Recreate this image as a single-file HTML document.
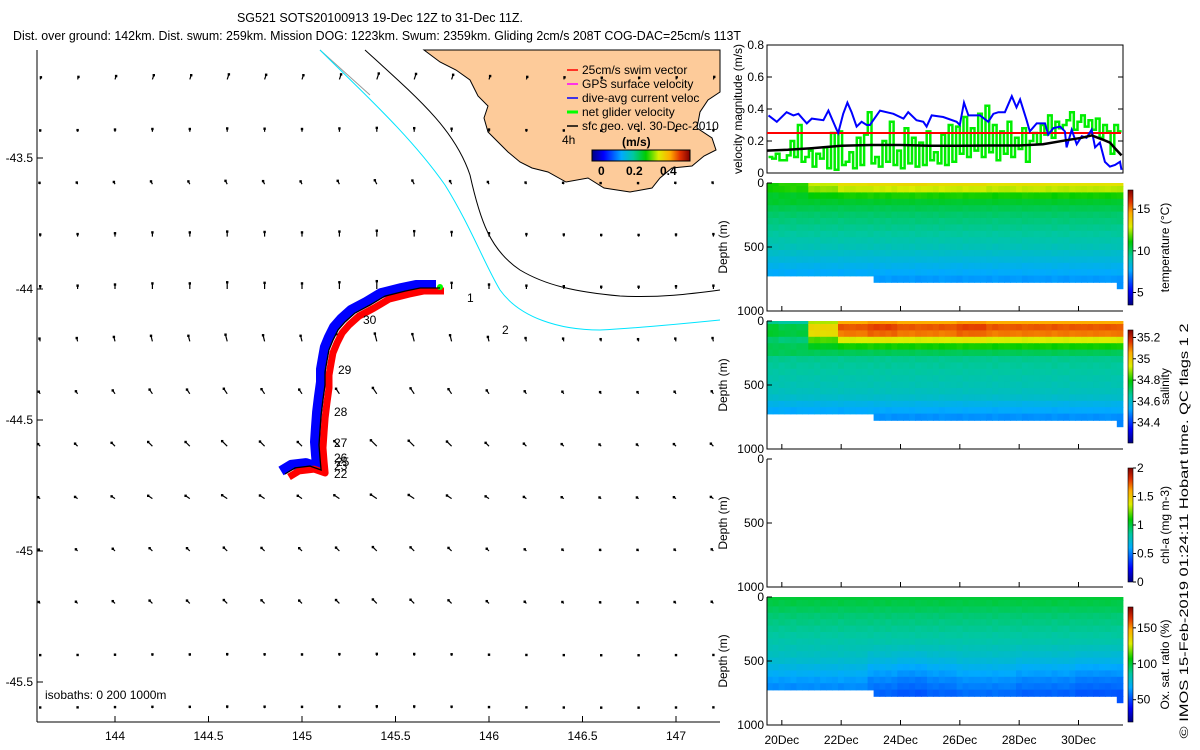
<!DOCTYPE html>
<html><head><meta charset="utf-8"><title>SG521 glider chart</title>
<style>
html,body{margin:0;padding:0;background:#fff;}
svg{display:block;font-family:"Liberation Sans",sans-serif;}
</style></head>
<body>
<svg id="root" width="1200" height="750" viewBox="0 0 1200 750" xmlns="http://www.w3.org/2000/svg">
<g id="title" font-size="12.5" fill="#000">
  <text x="380" y="22" text-anchor="middle">SG521 SOTS20100913 19-Dec 12Z to 31-Dec 11Z.</text>
  <text x="13" y="40" textLength="728" lengthAdjust="spacingAndGlyphs">Dist. over ground: 142km. Dist. swum: 259km. Mission DOG: 1223km. Swum: 2359km. Gliding 2cm/s 208T COG-DAC=25cm/s 113T</text>
</g>
<defs>
  <linearGradient id="jetH" x1="0" x2="1" y1="0" y2="0">
    <stop offset="0" stop-color="#000080"/><stop offset="0.12" stop-color="#0000FF"/><stop offset="0.3" stop-color="#00AAFF"/><stop offset="0.42" stop-color="#00C8A0"/><stop offset="0.55" stop-color="#00CC00"/><stop offset="0.68" stop-color="#DDEE00"/><stop offset="0.8" stop-color="#FFAA00"/><stop offset="0.9" stop-color="#E03000"/><stop offset="1" stop-color="#800000"/>
  </linearGradient>
  <linearGradient id="jetV" x1="0" x2="0" y1="1" y2="0">
    <stop offset="0" stop-color="#000080"/><stop offset="0.12" stop-color="#0000FF"/><stop offset="0.3" stop-color="#00AAFF"/><stop offset="0.42" stop-color="#00C8A0"/><stop offset="0.55" stop-color="#00CC00"/><stop offset="0.68" stop-color="#DDEE00"/><stop offset="0.8" stop-color="#FFAA00"/><stop offset="0.9" stop-color="#E03000"/><stop offset="1" stop-color="#800000"/>
  </linearGradient>
</defs>
<g id="map">
  <path fill="#FDCB9A" stroke="#000" stroke-width="1" d="M424,50 L720,50 L720,92 L708,100 L700,112 L697,128 L712,138 L716,150 L704,156 L692,166 L672,168 L660,178 L652,188 L630,192 L604,188 L588,178 L566,182 L548,172 L532,168 L520,162 L508,152 L498,142 L488,132 L484,118 L488,106 L478,96 L470,80 L456,70 L440,62 Z"/>
  <path fill="none" stroke="#999" stroke-width="1" d="M320,50 L370,95"/>
  <path fill="none" stroke="#000" stroke-width="1" d="M365,50 C420,100 455,130 470,175 C480,220 490,250 520,270 C545,285 575,292 620,296 C660,298 690,294 720,290"/>
  <path fill="none" stroke="#00E5FF" stroke-width="1" d="M320,50 C360,90 410,135 445,185 C470,225 485,265 500,290 C520,318 560,330 600,330 C640,328 680,324 720,320"/>
  <g id="arrows"></g>
  <g id="track"></g>
  <g id="trackLabels" font-size="12">
    <text x="467" y="302">1</text>
    <text x="502" y="334">2</text>
    <text x="363" y="324">30</text>
    <text x="338" y="374">29</text>
    <text x="334" y="416">28</text>
    <text x="334" y="447">27</text>
    <text x="334" y="462">26</text>
    <text x="336" y="466">25</text>
    <text x="334" y="470">23</text>
    <text x="334" y="478">22</text>
  </g>
  <line x1="37" y1="50" x2="37" y2="722" stroke="#000"/>
  <line x1="37" y1="722" x2="720" y2="722" stroke="#000"/>
  <g id="mapTicks" font-size="12"></g>
  <text x="45" y="699" font-size="12">isobaths: 0   200  1000m</text>
  <g id="legend" font-size="12">
    <line x1="567" y1="70" x2="578" y2="70" stroke="#f00" stroke-width="1.5"/><text x="582" y="74">25cm/s swim vector</text>
    <line x1="567" y1="84" x2="578" y2="84" stroke="#f0f" stroke-width="1.5"/><text x="582" y="88">GPS surface velocity</text>
    <line x1="567" y1="98" x2="578" y2="98" stroke="#00f" stroke-width="1.5"/><text x="582" y="102">dive-avg current veloc</text>
    <line x1="567" y1="112" x2="578" y2="112" stroke="#0f0" stroke-width="3"/><text x="582" y="116">net glider velocity</text>
    <line x1="567" y1="126" x2="578" y2="126" stroke="#000" stroke-width="1.5"/><text x="582" y="130">sfc geo. vel. 30-Dec-2010</text>
    <text x="562" y="144">4h</text>
    <text x="622" y="146" font-weight="bold">(m/s)</text>
  </g>
  <rect x="592" y="150" width="98" height="11" fill="url(#jetH)" stroke="#000"/>
  <g font-size="12" font-weight="bold">
    <text x="598" y="175">0</text><text x="626" y="175">0.2</text><text x="660" y="175">0.4</text>
  </g>
</g>
<g id="vel"></g>
<g id="depthPanels"></g>
<text transform="translate(1188,531) rotate(-90)" text-anchor="middle" font-size="12" textLength="415" lengthAdjust="spacingAndGlyphs">© IMOS 15-Feb-2019 01:24:11 Hobart time. QC flags 1  2</text>
</svg>
<script>
// ---------- velocity data ----------
const blueTimes = [19.55,19.83,20.16,20.39,20.56,20.84,21.01,21.40,21.57,21.85,21.90,22.07,22.21,22.35,22.52,22.69,22.86,22.97,23.31,23.76,24.10,24.26,24.54,24.77,24.88,25.05,25.44,25.89,26.00,26.14,26.29,26.68,26.96,27.13,27.30,27.52,27.75,27.91,28.03,28.25,28.36,28.59,28.87,28.98,29.15,29.38,29.54,29.60,29.77,29.94,30.11,30.27,30.44,30.56,30.72,30.89,31.06,31.23,31.40,31.45];
const blueValues = [0.36,0.32,0.38,0.36,0.37,0.31,0.34,0.33,0.39,0.27,0.25,0.37,0.44,0.38,0.29,0.32,0.30,0.30,0.39,0.37,0.34,0.38,0.33,0.32,0.29,0.36,0.35,0.32,0.30,0.44,0.36,0.36,0.32,0.37,0.38,0.38,0.48,0.41,0.46,0.33,0.26,0.31,0.31,0.24,0.28,0.29,0.26,0.16,0.27,0.18,0.23,0.22,0.27,0.16,0.19,0.07,0.04,0.05,0.07,0.02];
const blackTimes = [19.5,20.2,21.0,22.0,23.0,24.0,25.0,26.0,27.0,28.0,28.8,29.6,30.1,30.45,30.8,31.06,31.25,31.45];
const blackValues = [0.14,0.145,0.155,0.17,0.175,0.175,0.17,0.17,0.172,0.172,0.18,0.205,0.22,0.235,0.21,0.19,0.15,0.11];
const greenStart = 19.55, greenStep = 0.124;
const greenValues = [0.10,0.09,0.12,0.08,0.08,0.11,0.20,
0.10,0.30,0.07,0.10,0.14,0.04,0.12,0.09,
0.16,0.03,0.25,0.02,0.26,0.05,0.07,0.13,
0.03,0.22,0.05,0.24,0.38,0.06,0.10,0.04,
0.20,0.07,0.32,0.05,0.14,0.03,0.28,0.06,
0.22,0.04,0.19,0.05,0.26,0.08,0.13,0.06,
0.24,0.05,0.30,0.07,0.29,0.12,0.35,0.10,
0.28,0.14,0.37,0.10,0.42,0.13,0.30,0.08,
0.26,0.12,0.32,0.10,0.22,0.15,0.28,0.07,
0.20,0.25,0.18,0.30,0.24,0.36,0.22,0.32,
0.28,0.30,0.33,0.38,0.27,0.32,0.36,0.29,
0.33,0.27,0.34,0.22,0.30,0.26,0.12,0.30,0.26];
const swimSpeed = 0.25;
const velTicks = [0,0.2,0.4,0.6,0.8];
const velTickLabels = ["0","0.2","0.4","0.6","0.8"];
const dateTicks = [20,22,24,26,28,30];
const dateTickLabels = ["20Dec","22Dec","24Dec","26Dec","28Dec","30Dec"];

// ---------- section data ----------
const diveTimes = [19.6,19.8,20.0,20.2,20.4,20.6,20.8,21.0,21.2,21.4,21.6,21.8,22.0,22.2,22.4,22.6,22.8,23.0,23.2,23.4,23.6,23.8,24.0,24.2,24.4,24.6,24.8,25.0,25.2,25.4,25.6,25.8,26.0,26.2,26.4,26.6,26.8,27.0,27.2,27.4,27.6,27.8,28.0,28.2,28.4,28.6,28.8,29.0,29.2,29.4,29.6,29.8,30.0,30.2,30.4,30.6,30.8,31.0,31.2,31.4];
const diveMaxDepth = [730,740,720,735,745,730,740,725,735,730,745,735,740,730,745,740,735,730,770,790,775,780,760,790,785,770,765,790,780,770,760,785,775,770,765,780,770,760,775,780,765,770,790,785,775,780,770,765,790,780,770,760,775,785,790,780,760,775,795,800];
const diveAnomaly = [0.1,-0.2,0.3,0.0,-0.3,0.2,0.1,-0.1,0.3,-0.2,0.0,0.2,-0.3,0.1,0.2,-0.1,0.0,0.3,-0.2,0.1,-0.3,0.2,0.0,0.1,-0.2,0.3,0.1,-0.1,0.2,-0.3,0.0,0.1,0.3,-0.2,0.1,0.0,-0.1,0.2,-0.3,0.1,0.2,0.0,-0.2,0.3,0.1,-0.1,0.0,0.2,-0.3,0.1,0.3,-0.2,0.0,0.1,-0.1,0.2,0.0,-0.2,0.1,0.3];
const depthBins = [0,50,100,150,200,250,300,350,400,450,500,550,600,650,700,750,800];
const tempProfile = [13.2,12.6,11.2,10.6,10.2,9.9,9.7,9.5,9.3,9.1,8.9,8.6,8.3,8.0,7.7,7.4,7.2];
const tempSurfaceAnomaly = [-2.0,-1.8,-0.5,0.1,0.2,0.3,0.2,0.2,0.0,0.1,0.0,0.0,0.0]; // per day 19..31
const salProfile = [35.05,35.13,35.10,34.93,34.80,34.72,34.67,34.66,34.65,34.64,34.63,34.62,34.60,34.56,34.53,34.50,34.48];
const salSurfaceAnomaly = [-0.38,-0.40,-0.15,0.0,0.02,0.0,0.0,0.02,0.0,0.0,0.0,0.0,0.0];
const oxProfile = [100,98,95,92,90,88,86,84,82,80,77,73,69,65,62,59,57];
const oxDeepAnomaly = [0,0,0,0,-4,-6,-4,-2,-2,-4,-4,-6,-6];
const tempTicks = [5,10,15], salTicks = [34.4,34.6,34.8,35,35.2], chlTicks = [0,0.5,1,1.5,2], oxTicks = [50,100,150];
const depthTicks = [0,500,1000];

// ---------- map arrow data ----------
const arrowLons = [143.6,143.8,144.0,144.2,144.4,144.6,144.8,145.0,145.2,145.4,145.6,145.8,146.0,146.2,146.4,146.6,146.8,147.0,147.2];
const arrowLats = [-43.2,-43.4,-43.6,-43.8,-44.0,-44.2,-44.4,-44.6,-44.8,-45.0,-45.2,-45.4,-45.6];
const arrowRowU = [0.01,0.00,-0.01,0.00,0.00,-0.01,-0.02,-0.03,-0.03,-0.02,-0.02,0.00,0.00];
const arrowRowV = [0.03,0.02,0.02,0.03,0.04,0.04,0.03,0.03,0.02,0.02,0.02,0.01,0.01];
const arrowColScale = [0.5,0.6,0.8,1.0,1.0,1.2,1.1,1.0,1.2,1.4,1.3,1.1,0.8,0.6,0.5,0.4,0.4,0.5,0.6];

// ---------- track data ----------
const trackLon = [145.738,145.631,145.551,145.444,145.364,145.283,145.230,145.193,145.166,145.144,145.134,145.123,145.123,145.112,145.102,145.096,145.091,145.096,145.102,145.043,144.963,144.909];
const trackLat = [-43.996,-43.996,-44.008,-44.027,-44.061,-44.092,-44.126,-44.156,-44.195,-44.233,-44.271,-44.317,-44.366,-44.424,-44.481,-44.538,-44.595,-44.645,-44.691,-44.676,-44.683,-44.706];
const mapLonTicks = [144,144.5,145,145.5,146,146.5,147];
const mapLatTicks = [-43.5,-44,-44.5,-45,-45.5];

const NS = "http://www.w3.org/2000/svg";
function mk(tag, attrs, parent){ const e=document.createElementNS(NS,tag); for(const k in attrs) e.setAttribute(k,attrs[k]); if(parent) parent.appendChild(e); return e; }
const cmapStops = [[0,[0,0,128]],[0.12,[0,0,255]],[0.3,[0,170,255]],[0.42,[0,200,160]],[0.55,[0,204,0]],[0.68,[221,238,0]],[0.8,[255,170,0]],[0.9,[224,48,0]],[1,[128,0,0]]];
function jet(v){ v=Math.max(0,Math.min(1,v));
  for(let i=1;i<cmapStops.length;i++){ if(v<=cmapStops[i][0]){ const a=cmapStops[i-1], b=cmapStops[i]; const f=(v-a[0])/(b[0]-a[0]);
    return "rgb("+[0,1,2].map(k=>Math.round(a[1][k]+(b[1][k]-a[1][k])*f)).join(",")+")"; } }
  return "rgb(128,0,0)"; }

// map axes
const lonX = lon => 115 + (lon-144)*187;
const latY = lat => 289 + (-44-lat)*262;
const mt = document.getElementById('mapTicks');
mapLonTicks.forEach(l=>{ const x=lonX(l);
  const t=mk('line',{x1:x,y1:722,x2:x,y2:716,stroke:'#000'},mt);
   
  const s=mk('text',{x:x,y:740,'text-anchor':'middle'},mt); s.textContent=String(l);
    });
mapLatTicks.forEach(l=>{ const y=latY(l);
  const t=mk('line',{x1:37,y1:y,x2:43,y2:y,stroke:'#000'},mt);
   
  const s=mk('text',{x:33,y:y+4,'text-anchor':'end'},mt); s.textContent=String(l);
    });

// arrows
const ag = document.getElementById('arrows');
arrowLats.forEach((la,ri)=>arrowLons.forEach((lo,ci)=>{
  const x=lonX(lo), y=latY(la); if(x<38||x>719) return;
  const u=arrowRowU[ri]*arrowColScale[ci], v=arrowRowV[ri]*arrowColScale[ci];
  const dx=u*140, dy=-v*140;
  const a=mk('line',{x1:x,y1:y,x2:x+dx,y2:y+dy,stroke:'#000','stroke-width':1.2},ag);
   
  const h=mk('rect',{x:x+dx-1.2,y:y+dy-1.2,width:2.4,height:2.4,fill:'#000'},ag);
   
}));

// track
const tg = document.getElementById('track');
const pts = trackLon.map((lo,i)=>[lonX(lo),latY(trackLat[i])]);
const ptsStr = (dx,dy)=>pts.map(p=>(p[0]+dx).toFixed(1)+","+(p[1]+dy).toFixed(1)).join(" ");
const bl=mk('polyline',{points:ptsStr(-4,-3),fill:'none',stroke:'#0000FF','stroke-width':10,'stroke-linejoin':'round'},tg);
 
const rd=mk('polyline',{points:ptsStr(4,3),fill:'none',stroke:'#FF0000','stroke-width':7,'stroke-linejoin':'round'},tg);
 
const gr=mk('circle',{cx:pts[0][0],cy:pts[0][1]-1,r:3,fill:'#00ff00'},tg);
 
const bk=mk('polyline',{points:ptsStr(0,0),fill:'none',stroke:'#000','stroke-width':1.3},tg);
 

// time axis
const X0=767, X1=1123, T0=19.5, T1=31.5;
const tX = t => X0 + (t-T0)/(T1-T0)*(X1-X0);

// velocity panel
const vg = document.getElementById('vel');
const VT=45, VB=173;
const vY = v => VB - v/0.8*(VB-VT);
const box=mk('rect',{x:X0,y:VT,width:X1-X0,height:VB-VT,fill:'none',stroke:'#000'},vg);
 
velTicks.forEach((v,i)=>{ const y=vY(v);
  const a=mk('line',{x1:X0,y1:y,x2:X0+5,y2:y,stroke:'#000'},vg);  
  const b=mk('line',{x1:X1,y1:y,x2:X1-5,y2:y,stroke:'#000'},vg);  
  const s=mk('text',{x:X0-3,y:y+4,'text-anchor':'end','font-size':12},vg); s.textContent=velTickLabels[i];
    });
const vl=mk('text',{transform:'translate(742,109) rotate(-90)','text-anchor':'middle','font-size':12},vg); vl.textContent='velocity magnitude (m/s)';
 
let gp=""; greenValues.forEach((v,i)=>{ const xa=tX(greenStart+i*greenStep), xb=tX(greenStart+(i+1)*greenStep); const y=vY(v);
  gp += (i===0?"M":"L")+xa.toFixed(1)+","+y.toFixed(1)+" L"+xb.toFixed(1)+","+y.toFixed(1)+" "; });
const gl=mk('path',{d:gp,fill:'none',stroke:'#00EE00','stroke-width':2.5},vg);
 
const rl=mk('line',{x1:X0,y1:vY(swimSpeed),x2:X1-2,y2:vY(swimSpeed),stroke:'#FF0000','stroke-width':2},vg);
 
const bll=mk('polyline',{points:blueTimes.map((t,i)=>tX(t).toFixed(1)+","+vY(blueValues[i]).toFixed(1)).join(" "),fill:'none',stroke:'#0000FF','stroke-width':2},vg);
 
const bkl=mk('polyline',{points:blackTimes.map((t,i)=>tX(t).toFixed(1)+","+vY(blackValues[i]).toFixed(1)).join(" "),fill:'none',stroke:'#000','stroke-width':2.5},vg);
 

// depth panels
const dp = document.getElementById('depthPanels');
const panels = [
 {name:'temperature',top:183,prof:tempProfile,anom:tempSurfaceAnomaly,anomBins:[1,0.7,0.3],noise:0.25,min:3.5,max:17.3,ticks:tempTicks,label:'temperature (°C)',cbTop:190,cbBot:305},
 {name:'salinity',top:321,prof:salProfile,anom:salSurfaceAnomaly,anomBins:[1,1,0.9,0.6,0.2],noise:0.02,min:34.21,max:35.27,ticks:salTicks,label:'salinity',cbTop:330,cbBot:443},
 {name:'chlorophyll',top:459,prof:null,min:0,max:2,ticks:chlTicks,label:'chl-a (mg m-3)',cbTop:468,cbBot:582},
 {name:'oxygen',top:597,prof:oxProfile,anom:oxDeepAnomaly,anomBins:[0,0,0,0,0,0,0,0,0.3,0.6,0.8,1,1,1,1,1,1],noise:3,min:19,max:179,ticks:oxTicks,label:'Ox. sat. ratio (%)',cbTop:607,cbBot:722}
];
panels.forEach(p=>{
  const g=mk('g',{},dp);  
  const H=128, B=p.top+H;
  const dY = d => p.top + d/1000*H;
  if(p.prof){
    diveTimes.forEach((t,i)=>{
      const day=Math.min(12,Math.max(0,Math.floor(t)-19));
      depthBins.forEach((d,j)=>{
        if(d>diveMaxDepth[i]) return;
        const sgn = (j%2===0)?1:-1;
        let v=p.prof[j] + (p.anomBins[j]||0)*p.anom[day] + sgn*diveAnomaly[i]*p.noise*(j>0?1:0.3);
        const c=mk('rect',{x:(tX(t)-3.2).toFixed(1),y:(dY(d)-(j===0?0:3.4)).toFixed(1),width:6.6,height:(j===0?4:7.2),fill:jet((v-p.min)/(p.max-p.min))},g);
         
      });
    });
  }
  const ax=mk('path',{d:`M${X0},${p.top} L${X0},${B} L${X1},${B}`,fill:'none',stroke:'#000'},g);
   
  depthTicks.forEach(d=>{ const y=dY(d);
    const tk=mk('line',{x1:X0,y1:y,x2:X0+5,y2:y,stroke:'#000'},g);  
    const s=mk('text',{x:X0-3,y:y+4,'text-anchor':'end','font-size':12},g); s.textContent=String(d);
      });
  dateTicks.forEach(t=>{ const x=tX(t);
    const tk=mk('line',{x1:x,y1:B,x2:x,y2:B-5,stroke:'#000'},g);   });
  const yl=mk('text',{transform:`translate(727,${p.top+64}) rotate(-90)`,'text-anchor':'middle','font-size':12},g); yl.textContent='Depth (m)';
   
  const cb=mk('rect',{x:1128,y:p.cbTop,width:5,height:p.cbBot-p.cbTop,fill:'url(#jetV)',stroke:'#000','stroke-width':0.6},g);
   
  const cY = v => p.cbBot - (v-p.min)/(p.max-p.min)*(p.cbBot-p.cbTop);
  p.ticks.forEach(v=>{ const y=cY(v);
    const tk=mk('line',{x1:1133,y1:y,x2:1136,y2:y,stroke:'#000'},g);  
    const s=mk('text',{x:1137,y:y+4,'font-size':12},g); s.textContent=String(v);
      });
  const cl=mk('text',{transform:`translate(1169,${(p.cbTop+p.cbBot)/2}) rotate(-90)`,'text-anchor':'middle','font-size':12},g); cl.textContent=p.label;
   
});
dateTicks.forEach((t,i)=>{ const s=mk('text',{x:tX(t),y:744,'text-anchor':'middle','font-size':12},dp); s.textContent=dateTickLabels[i];
    });
</script>
</body></html>
